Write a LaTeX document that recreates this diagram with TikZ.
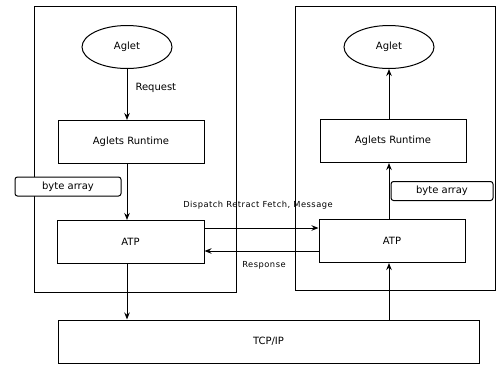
\documentclass[tikz,border=0pt]{standalone}
\usepackage{fontspec}
\setmainfont{DejaVu Sans}
\usetikzlibrary{shapes.geometric,arrows.meta}
\begin{document}
\begin{tikzpicture}[x=1pt,y=-1pt,
  line width=1pt,
  every node/.style={inner sep=0pt,font=\fontsize{10}{12}\selectfont},
  box/.style={draw,rectangle,minimum width=#1,minimum height=43},
  outer/.style={draw,rectangle},
  bytebox/.style={draw,rectangle,rounded corners=2.5pt,fill=white,minimum height=19},
  oval/.style={draw,ellipse,minimum width=90,minimum height=43},
  small/.style={font=\fontsize{8.3}{10}\selectfont\addfontfeature{LetterSpace=6}},
  arr/.style={-{Stealth[length=7pt,width=5.5pt]}}]
\useasboundingbox (0,0) rectangle (497,365);
% outer frames
\node[outer,minimum width=202,minimum height=286] (lOuter) at (135,149) {};
\node[outer,minimum width=200,minimum height=284] (rOuter) at (395,148) {};
% left side
\node[oval] (lAglet) at (127,47) {Aglet};
\node[box=146] (lRun) at (131,142) {Aglets Runtime};
\node[bytebox,minimum width=106] (lByte) at (68,186.5) {byte array};
\node[box=147] (lATP) at (130.5,242) {ATP};
% right side
\node[oval] (rAglet) at (389,47) {Aglet};
\node[box=146] (rRun) at (393,141) {Aglets Runtime};
\node[bytebox,minimum width=102] (rByte) at (442,191) {byte array};
\node[box=146] (rATP) at (392,241) {ATP};
% network
\node[box=421] (tcp) at (268.5,341.5) {TCP/IP};
% vertical connectors
\draw[arr] (lAglet.south) -- (lAglet.south |- lRun.north) node[pos=0.38,right=8pt,anchor=west] (req) {Request};
\draw[arr] (lAglet.south |- lRun.south) -- (lAglet.south |- lATP.north);
\draw[arr] (lAglet.south |- lATP.south) -- (lAglet.south |- tcp.north);
\draw[arr] (rAglet.south |- tcp.north) -- (rAglet.south |- rATP.south);
\draw[arr] (rAglet.south |- rATP.north) -- (rAglet.south |- rRun.south);
\draw[arr] (rAglet.south |- rRun.north) -- (rAglet.south);
% horizontal connectors
\coordinate (t1) at (0,228);
\coordinate (t2) at (0,251);
\draw[arr] (lATP.east |- t1) -- (rATP.west |- t1);
\draw[arr] (rATP.west |- t2) -- (lATP.east |- t2);
\node[small] (disp) at (258,205) {Dispatch Retract Fetch, Message};
\node[small] (resp) at (264,265) {Response};
\end{tikzpicture}
\end{document}
